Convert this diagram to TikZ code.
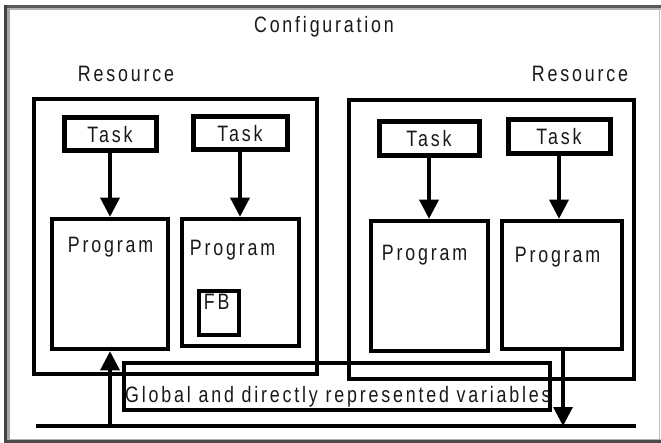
\documentclass[tikz,border=0pt]{standalone}
\usepackage{fontspec}
\setmainfont{Liberation Sans}[FakeStretch=0.8, LetterSpace=12.6]
\usetikzlibrary{arrows.meta}
\begin{document}
\begin{tikzpicture}[x=1pt, y=-1pt,
  font=\fontsize{22.3}{24}\selectfont,
  txt/.style={inner sep=0pt, text=black!90},
  resbox/.style={draw, line width=4.5pt, inner sep=0pt},
  taskbox/.style={draw, line width=5pt, inner sep=0pt, text=black!90},
  progbox/.style={draw, line width=4.5pt, inner sep=0pt},
  fbbox/.style={draw, line width=4.5pt, inner sep=0pt},
  globbox/.style={draw, line width=4.5pt, inner sep=0pt},
  plabel/.style={anchor=base west, inner sep=0pt, text=black!90},
  flow/.style={line width=3.2pt, -{Triangle[length=19pt, width=19pt]}},
  bus/.style={line width=4.5pt},
]
\useasboundingbox (0,0) rectangle (661,443);
\fill[white] (0,0) rectangle (661,443);

% bevelled outer frame
\draw[line width=3pt, black!65] (4,6.5) -- (661,6.5);
\draw[line width=2pt, black!30] (8,9) -- (661,9);
\draw[line width=3.5pt, black!75] (5.5,5) -- (5.5,443);
\draw[line width=3pt, black!35] (8.5,8) -- (8.5,440);
\draw[line width=1pt, black!30] (8,439) -- (661,439);
\draw[line width=3pt, black!70] (4,441.5) -- (661,441.5);
\draw[line width=1.5pt, black!25] (659.5,8) -- (659.5,439);

% titles
\node[txt] (config) at (324,27) {Configuration};
\node[txt] (resLtitle) at (126,74) {Resource};
\node[txt] (resRtitle) at (580,74) {Resource};

% resources
\node[resbox, minimum width=283pt, minimum height=275pt] (resL) at (175.5,236.5) {};
\node[resbox, minimum width=285pt, minimum height=279pt] (resR) at (491.5,239.5) {};

% tasks
\node[taskbox, minimum width=92pt, minimum height=33pt] (taskL1) at (110,134.5) {Task};
\node[taskbox, minimum width=94pt, minimum height=33pt] (taskL2) at (240,133.5) {Task};
\node[taskbox, minimum width=100pt, minimum height=34pt] (taskR1) at (429,139) {Task};
\node[taskbox, minimum width=102pt, minimum height=34pt] (taskR2) at (559,137) {Task};

% programs
\node[progbox, minimum width=116pt, minimum height=130pt,
  label={[plabel, xshift=18pt, yshift=-36pt]north west:Program}] (progL1) at (110,284) {};
\node[progbox, minimum width=117pt, minimum height=127pt,
  label={[plabel, xshift=10pt, yshift=-39pt]north west:Program}] (progL2) at (240.5,282.5) {};
\node[progbox, minimum width=117pt, minimum height=130pt,
  label={[plabel, xshift=13pt, yshift=-42pt]north west:Program}] (progR1) at (429.5,286) {};
\node[progbox, minimum width=120pt, minimum height=128pt,
  label={[plabel, xshift=15pt, yshift=-44pt]north west:Program}] (progR2) at (562,285) {};

% function block
\node[fbbox, minimum width=40pt, minimum height=44pt,
  label={[plabel, xshift=7pt, yshift=-21pt]north west:FB}] (fb) at (219,313) {};

% global variables
\node[globbox, minimum width=426pt, minimum height=47pt] (glob) at (337,386.5) {};
\node[plabel] (globtext) at (125,402) {Global and directly represented variables};

% bus line
\coordinate (busL) at (36,426);
\coordinate (busR) at (636,426);
\draw[bus] (busL) -- (busR);

% task -> program
\draw[flow] (taskL1.south) -- (progL1.north);
\draw[flow] (taskL2.south) -- (taskL2.south |- progL2.north);
\draw[flow] (taskR1.south) -- (taskR1.south |- progR1.north);
\draw[flow] (taskR2.south) -- (taskR2.south |- progR2.north);

% data exchange with the bus
\draw[flow] (progL1.south |- busL) -- (progL1.south);
\draw[flow] ([xshift=1pt]progR2.south) -- ([xshift=1pt]progR2.south |- busL);
\end{tikzpicture}
\end{document}
